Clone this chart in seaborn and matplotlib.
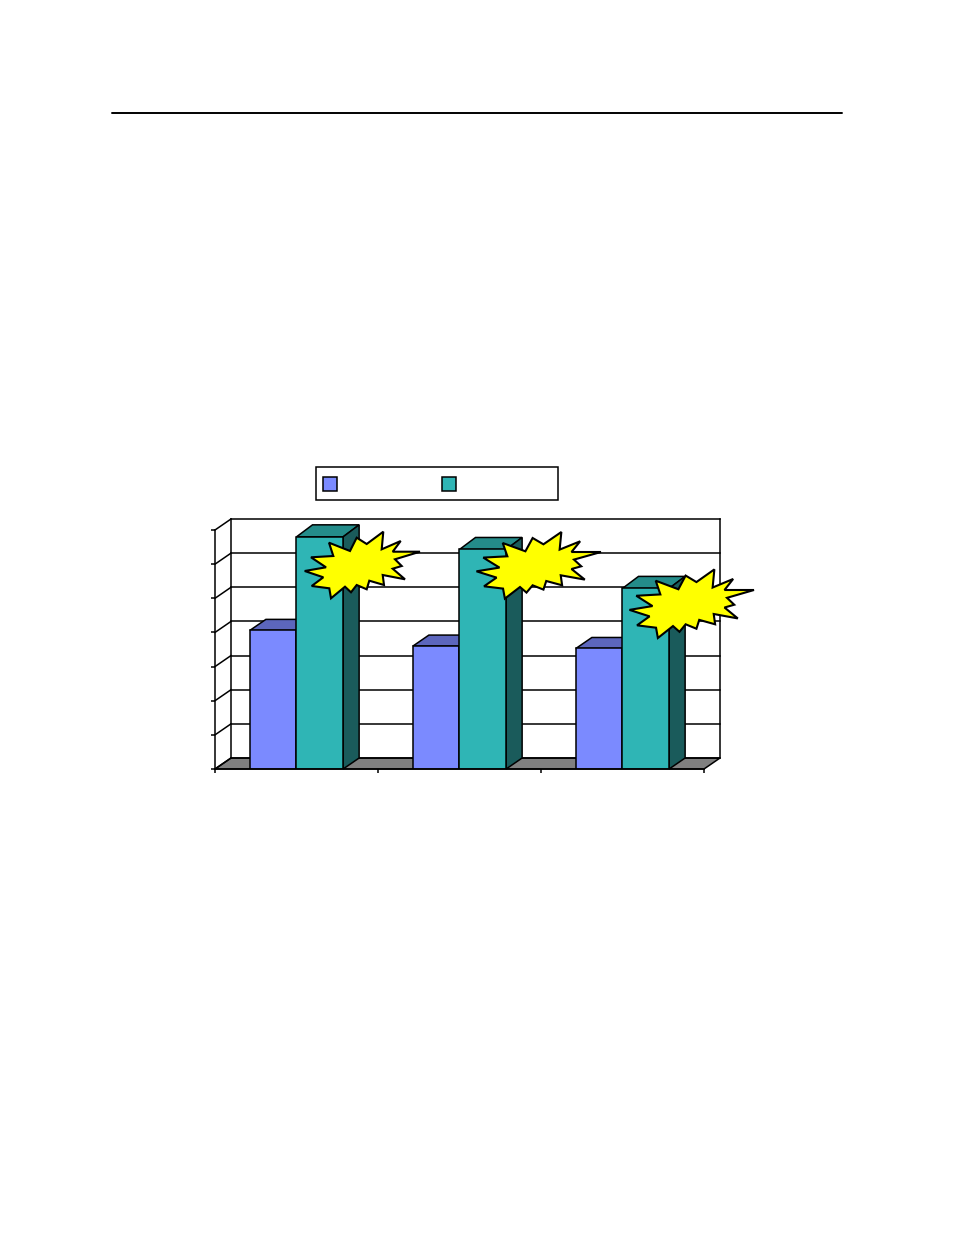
import matplotlib
matplotlib.use("Agg")
import matplotlib.pyplot as plt
from matplotlib.patches import Polygon, Rectangle
from matplotlib.lines import Line2D
import pandas as pd
import seaborn as sns

groups = ["A", "B", "C"]
series_a = [4.06, 3.60, 3.53]
series_b = [6.80, 6.43, 5.29]
series_names = ["Series 1", "Series 2"]
y_ticks = [0, 1, 2, 3, 4, 5, 6, 7]

BLUE, BLUE_TOP = "#7B8AFF", "#5C66BD"
TEAL, TEAL_TOP, TEAL_SIDE = "#2FB5B5", "#248C8A", "#1A5B5B"
FLOOR = "#808080"
STAR = "#FFFF00"

sns.set_theme(style="white")
W, H = 954, 1235
fig = plt.figure(figsize=(W / 100, H / 100), dpi=100, facecolor="white")

L, R, TOP, BOT = 215, 704, 530, 769
ax = fig.add_axes([L / W, (H - BOT) / H, (R - L) / W, (BOT - TOP) / H])

df = pd.DataFrame({
    "group": groups * 2,
    "series": [series_names[0]] * 3 + [series_names[1]] * 3,
    "value": series_a + series_b,
})
LW = 1.1
sns.barplot(data=df, x="group", y="value", hue="series",
            palette=[BLUE, TEAL], width=0.572, gap=0, saturation=1,
            edgecolor="black", linewidth=LW, legend=False, ax=ax, zorder=5)

ax.set_xlim(-0.5, 2.5)
ax.set_ylim(0, 7)
dx = 16 / ((R - L) / 3)            # depth of the 3-D view, in category units
dy = 11 / ((BOT - TOP) / 7)        # depth of the 3-D view, in value units

# walls and floor
ink = dict(color="black", lw=LW, clip_on=False, solid_capstyle="projecting")
ax.add_patch(Polygon([(-0.5, 0), (2.5, 0), (2.5 + dx, dy), (-0.5 + dx, dy)],
                     closed=True, fc=FLOOR, ec="black", lw=LW, clip_on=False, zorder=1))
for t in y_ticks:
    ax.plot([-0.5 + dx, 2.5 + dx], [t + dy, t + dy], zorder=1.5, **ink)
    ax.plot([-0.5, -0.5 + dx], [t, t + dy], zorder=1.5, **ink)
ax.plot([-0.5 + dx, -0.5 + dx], [dy, 7 + dy], zorder=1.5, **ink)
ax.plot([2.5 + dx, 2.5 + dx], [dy, 7 + dy], zorder=1.5, **ink)

# 3-D top and side faces derived from the bars
for bar in list(ax.patches):
    if not isinstance(bar, Rectangle) or bar.get_height() <= 0:
        continue
    x0, w, h = bar.get_x(), bar.get_width(), bar.get_height()
    teal = x0 + w / 2 > round(x0 + w / 2)
    top_dy = dy * 1.09 if teal else dy
    ax.add_patch(Polygon([(x0, h), (x0 + w, h), (x0 + w + dx, h + top_dy), (x0 + dx, h + top_dy)],
                         closed=True, fc=TEAL_TOP if teal else BLUE_TOP,
                         ec="black", lw=LW, clip_on=False, zorder=3 if teal else 2))
    if teal:
        ax.add_patch(Polygon([(x0 + w, 0), (x0 + w + dx, dy), (x0 + w + dx, h + top_dy), (x0 + w, h)],
                             closed=True, fc=TEAL_SIDE, ec="black", lw=LW,
                             clip_on=False, zorder=3))

ax.set_xlabel("")
ax.set_ylabel("")
ax.set_xticks([-0.5, 0.5, 1.5, 2.5], ["", "", "", ""])
ax.set_yticks(y_ticks, [""] * len(y_ticks))
ax.tick_params(axis="both", length=3, width=LW, color="black", direction="out",
               left=True, bottom=True)
for side, sp in ax.spines.items():
    sp.set_visible(side in ("left", "bottom"))
    sp.set_color("black")
    sp.set_linewidth(LW)
    sp.set_zorder(6)
ax.patch.set_alpha(0)

# page overlay in pixel coordinates: rule, legend box, starbursts
ov = fig.add_axes([0, 0, 1, 1], zorder=10)
ov.set_xlim(0, W)
ov.set_ylim(H, 0)
ov.axis("off")
ov.patch.set_alpha(0)

ov.add_line(Line2D([112, 842], [113, 113], color="black", lw=1.4))

ov.add_patch(Rectangle((316.5, 467), 242, 33, fc="white", ec="black", lw=LW))
ov.add_patch(Rectangle((323.5, 477), 13.5, 13.5, fc=BLUE, ec="black", lw=LW))
ov.add_patch(Rectangle((442.5, 477), 13.5, 13.5, fc=TEAL, ec="black", lw=LW))

star_x = [420, 395, 401.7, 392.7, 405, 382.7, 384, 369.3, 366.7, 356.7, 351, 345,
          331, 329.3, 311.7, 323.3, 304.7, 326, 311, 333.3, 329, 350, 356.7, 366.7,
          383.3, 381.7, 400.7, 392.7]
star_y = [551.7, 559.3, 566, 568.7, 579.3, 575, 585, 580.7, 589.3, 585, 592.3, 586.7,
          598.3, 588.3, 586, 577.3, 571, 567.3, 557.3, 556, 542.7, 551, 537.7, 544,
          531.7, 549.3, 541, 551.7]
star_tips = [(420, 551.7), (601, 552), (754, 590)]
star_scale = [(1.0, 1.0), (1.08, 1.0), (1.08, 1.03)]
for (tx, ty), (sx, sy) in zip(star_tips, star_scale):
    pts = [(tx + (x - star_x[0]) * sx, ty + (y - star_y[0]) * sy)
           for x, y in zip(star_x, star_y)]
    ov.add_patch(Polygon(pts, closed=True, fc=STAR, ec="black", lw=1.5, joinstyle="miter"))

fig.savefig("out.png", dpi=100, facecolor="white")
